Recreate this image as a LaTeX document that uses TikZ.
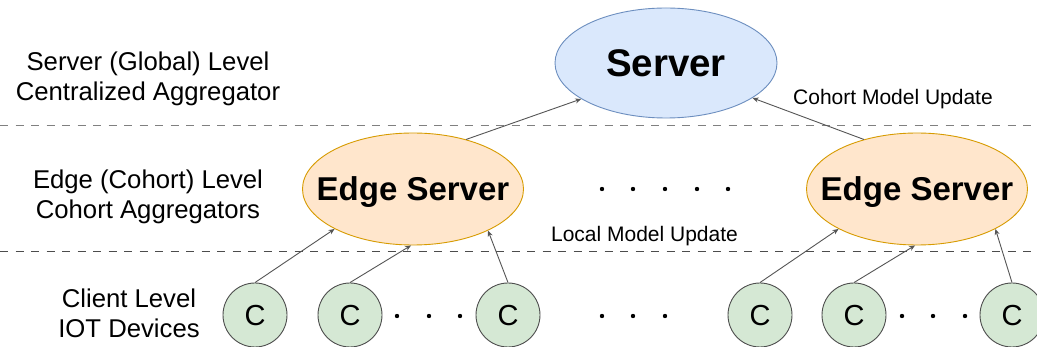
\documentclass[tikz,border=0pt]{standalone}
\usepackage{fontspec}
\setmainfont{Liberation Sans}
\usetikzlibrary{shapes.geometric,arrows.meta}
\definecolor{srvfill}{HTML}{DAE8FC}
\definecolor{srvdraw}{HTML}{6C8EBF}
\definecolor{edgefill}{HTML}{FFE6CC}
\definecolor{edgedraw}{HTML}{D79B00}
\definecolor{clifill}{HTML}{D5E8D4}
\definecolor{clidraw}{HTML}{4D4D4D}
\definecolor{linegray}{HTML}{555555}
\begin{document}
\begin{tikzpicture}[x=1pt,y=-1pt,
  srv/.style={ellipse,draw=srvdraw,fill=srvfill,line width=0.9pt,minimum width=222pt,minimum height=110pt,inner sep=0pt,
    font=\fontsize{38.5}{40}\selectfont\bfseries,text height=27.5pt,text depth=0pt},
  edgesrv/.style={ellipse,draw=edgedraw,fill=edgefill,line width=0.9pt,minimum width=221pt,minimum height=112pt,inner xsep=-20pt,inner ysep=0pt,
    font=\fontsize{33}{35}\selectfont\bfseries,text height=23.6pt,text depth=0pt},
  client/.style={circle,draw=clidraw,fill=clifill,line width=0.9pt,minimum size=64pt,inner sep=0pt,
    font=\fontsize{29}{31}\selectfont,text height=21pt,text depth=0pt},
  lvl/.style={align=center,font=\fontsize{25.7}{30}\selectfont},
  lbl/.style={font=\fontsize{21}{24}\selectfont,text height=15pt,text depth=0pt},
  arr/.style={draw=linegray,line width=0.9pt,-{Stealth[length=6pt,width=5pt]}},
  sep/.style={line width=1pt,dash pattern=on 8pt off 7.5pt}
]
\useasboundingbox (0,0) rectangle (1037,347);
\fill[white] (0,0) rectangle (1037,347);

% level separators
\draw[sep,draw=black!50] (0,126) -- (1037,126);
\draw[sep,draw=black!70] (0,252) -- (1037,252);

% level labels
\node[lvl] (lvlS) at (148,78.5) {Server (Global) Level\\Centralized Aggregator};
\node[lvl] (lvlE) at (148,196.6) {Edge (Cohort) Level\\Cohort Aggregators};
\node[lvl] (lvlC) at (129,313) {Client Level\\IOT Devices};

% nodes
\node[srv] (server) at (666,63) {Server};
\node[edgesrv] (edgeL) at (413,189) {Edge Server};
\node[edgesrv] (edgeR) at (917,189) {Edge Server};

\node[client] (c1) at (255,315) {C};
\node[client] (c2) at (350,315) {C};
\node[client] (c3) at (508,315) {C};
\node[client] (c4) at (760,315) {C};
\node[client] (c5) at (854,315) {C};
\node[client] (c6) at (1012,315) {C};

% dots
\foreach \x in {602,633,665,697,728} \fill (\x,189) circle (2.2pt);
\foreach \x in {397,429,460,602,633,665,902,933,965} \fill (\x,316) circle (2.2pt);

% labels
\node[lbl] (cmu) at (893,97) {Cohort Model Update};
\node[lbl] (lmu) at (644.5,234) {Local Model Update};

% connectors
\draw[arr] (c1.north) -- (edgeL.207);
\draw[arr] (c2.north) -- (edgeL.268);
\draw[arr] (c3.north) -- (edgeL.331);
\draw[arr] (c4.north) -- (edgeR.207);
\draw[arr] (c5.north) -- (edgeR.268);
\draw[arr] (c6.north) -- (edgeR.333);
\draw[arr] (edgeL.43) -- (server.203);
\draw[arr] (edgeR.137) -- (server.338);
\end{tikzpicture}
\end{document}
